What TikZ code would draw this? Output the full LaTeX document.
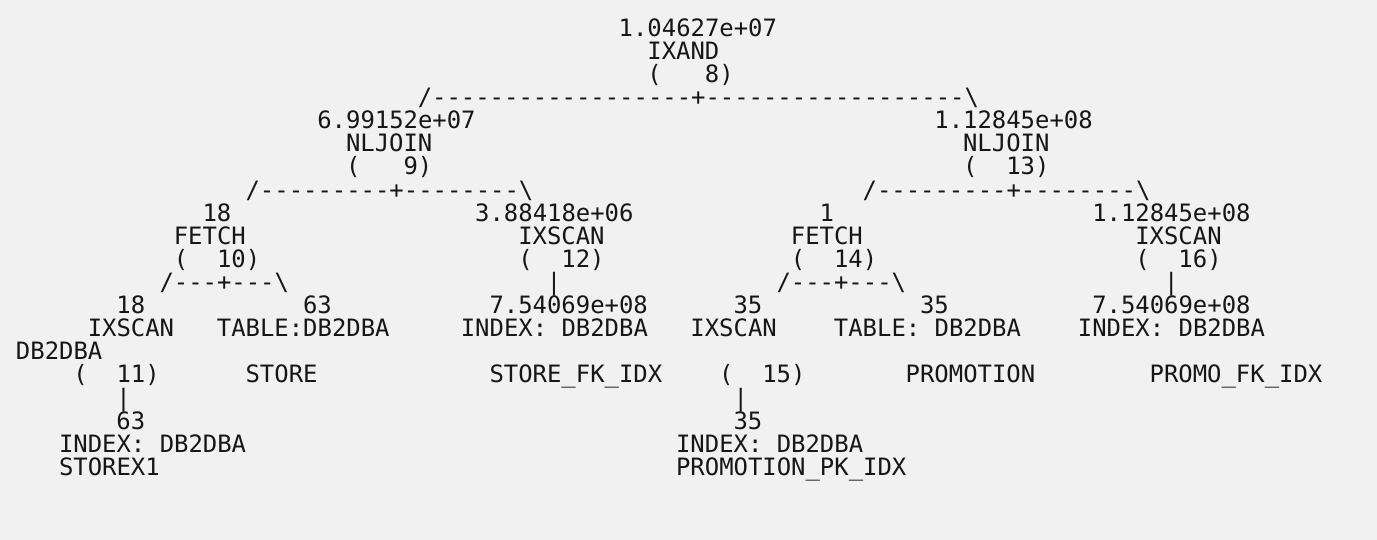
\documentclass[tikz,border=0pt]{standalone}
\usepackage{fontspec}
\setmonofont{DejaVu Sans Mono}
\usepackage{xcolor}
\definecolor{planBack}{HTML}{F1F1F1}
\definecolor{planText}{HTML}{161616}
\usetikzlibrary{positioning}
\tikzset{
  plantext/.style={anchor=base west, inner sep=0pt, outer sep=0pt, text=planText,
    font=\ttfamily\fontsize{23.9pt}{23.1pt}\selectfont}
}

\begin{document}
\begin{tikzpicture}
    \fill[planBack] (0,0) rectangle (1377pt,-540pt);
    % one unit = one character cell of the monospaced plan listing
    \begin{scope}[x=14.35pt, y=-23.1pt, shift={(16pt,-36.4pt)}]
    % IXAND (8)
    \node[plantext] (ixandrows) at (42,0) {1.04627e+07};
    \node[plantext] (ixandop)   at (44,1) {IXAND};
    \node[plantext] (ixandid)   at (44,2) {(\ \ \ 8)};
    \node[plantext] (ixandfork) at (28,3) {/------------------+------------------\textbackslash};
    % NLJOIN (9) and NLJOIN (13)
    \node[plantext] (nljoinArows) at (21,4) {6.99152e+07};
    \node[plantext] (nljoinBrows) at (64,4) {1.12845e+08};
    \node[plantext] (nljoinAop)   at (23,5) {NLJOIN};
    \node[plantext] (nljoinBop)   at (66,5) {NLJOIN};
    \node[plantext] (nljoinAid)   at (23,6) {(\ \ \ 9)};
    \node[plantext] (nljoinBid)   at (66,6) {(\ \ 13)};
    \node[plantext] (nljoinAfork) at (16,7) {/---------+--------\textbackslash};
    \node[plantext] (nljoinBfork) at (59,7) {/---------+--------\textbackslash};
    % FETCH (10), IXSCAN (12), FETCH (14), IXSCAN (16)
    \node[plantext] (fetchArows)  at (13,8) {18};
    \node[plantext] (ixscanCrows) at (32,8) {3.88418e+06};
    \node[plantext] (fetchBrows)  at (56,8) {1};
    \node[plantext] (ixscanDrows) at (75,8) {1.12845e+08};
    \node[plantext] (fetchAop)    at (11,9) {FETCH};
    \node[plantext] (ixscanCop)   at (35,9) {IXSCAN};
    \node[plantext] (fetchBop)    at (54,9) {FETCH};
    \node[plantext] (ixscanDop)   at (78,9) {IXSCAN};
    \node[plantext] (fetchAid)    at (11,10) {(\ \ 10)};
    \node[plantext] (ixscanCid)   at (35,10) {(\ \ 12)};
    \node[plantext] (fetchBid)    at (54,10) {(\ \ 14)};
    \node[plantext] (ixscanDid)   at (78,10) {(\ \ 16)};
    \node[plantext] (fetchAfork)  at (10,11) {/---+---\textbackslash};
    \node[plantext] (ixscanCpipe) at (37,11) {\textbar};
    \node[plantext] (fetchBfork)  at (53,11) {/---+---\textbackslash};
    \node[plantext] (ixscanDpipe) at (80,11) {\textbar};
    % leaves of the FETCH and IXSCAN operators
    \node[plantext] (ixscanArows)  at (7,12)  {18};
    \node[plantext] (storerows)    at (20,12) {63};
    \node[plantext] (storefkrows)  at (33,12) {7.54069e+08};
    \node[plantext] (ixscanBrows)  at (50,12) {35};
    \node[plantext] (promorows)    at (63,12) {35};
    \node[plantext] (promofkrows)  at (75,12) {7.54069e+08};
    \node[plantext] (ixscanAop)    at (5,13)  {IXSCAN};
    \node[plantext] (storetab)     at (14,13) {TABLE:DB2DBA};
    \node[plantext] (storefkidx)   at (31,13) {INDEX: DB2DBA};
    \node[plantext] (ixscanBop)    at (47,13) {IXSCAN};
    \node[plantext] (promotab)     at (57,13) {TABLE: DB2DBA};
    \node[plantext] (promofkidx)   at (74,13) {INDEX: DB2DBA};
    \node[plantext] (ixscanAowner) at (0,14)  {DB2DBA};
    \node[plantext] (ixscanAid)    at (4,15)  {(\ \ 11)};
    \node[plantext] (storename)    at (16,15) {STORE};
    \node[plantext] (storefkname)  at (33,15) {STORE\_FK\_IDX};
    \node[plantext] (ixscanBid)    at (49,15) {(\ \ 15)};
    \node[plantext] (promoname)    at (62,15) {PROMOTION};
    \node[plantext] (promofkname)  at (79,15) {PROMO\_FK\_IDX};
    \node[plantext] (ixscanApipe)  at (7,16)  {\textbar};
    \node[plantext] (ixscanBpipe)  at (50,16) {\textbar};
    % indexes under IXSCAN (11) and IXSCAN (15)
    \node[plantext] (storexrows)   at (7,17)  {63};
    \node[plantext] (promopkrows)  at (50,17) {35};
    \node[plantext] (storexidx)    at (3,18)  {INDEX: DB2DBA};
    \node[plantext] (promopkidx)   at (46,18) {INDEX: DB2DBA};
    \node[plantext] (storexname)   at (3,19)  {STOREX1};
    \node[plantext] (promopkname)  at (46,19) {PROMOTION\_PK\_IDX};
    \end{scope}
\end{tikzpicture}
\end{document}
